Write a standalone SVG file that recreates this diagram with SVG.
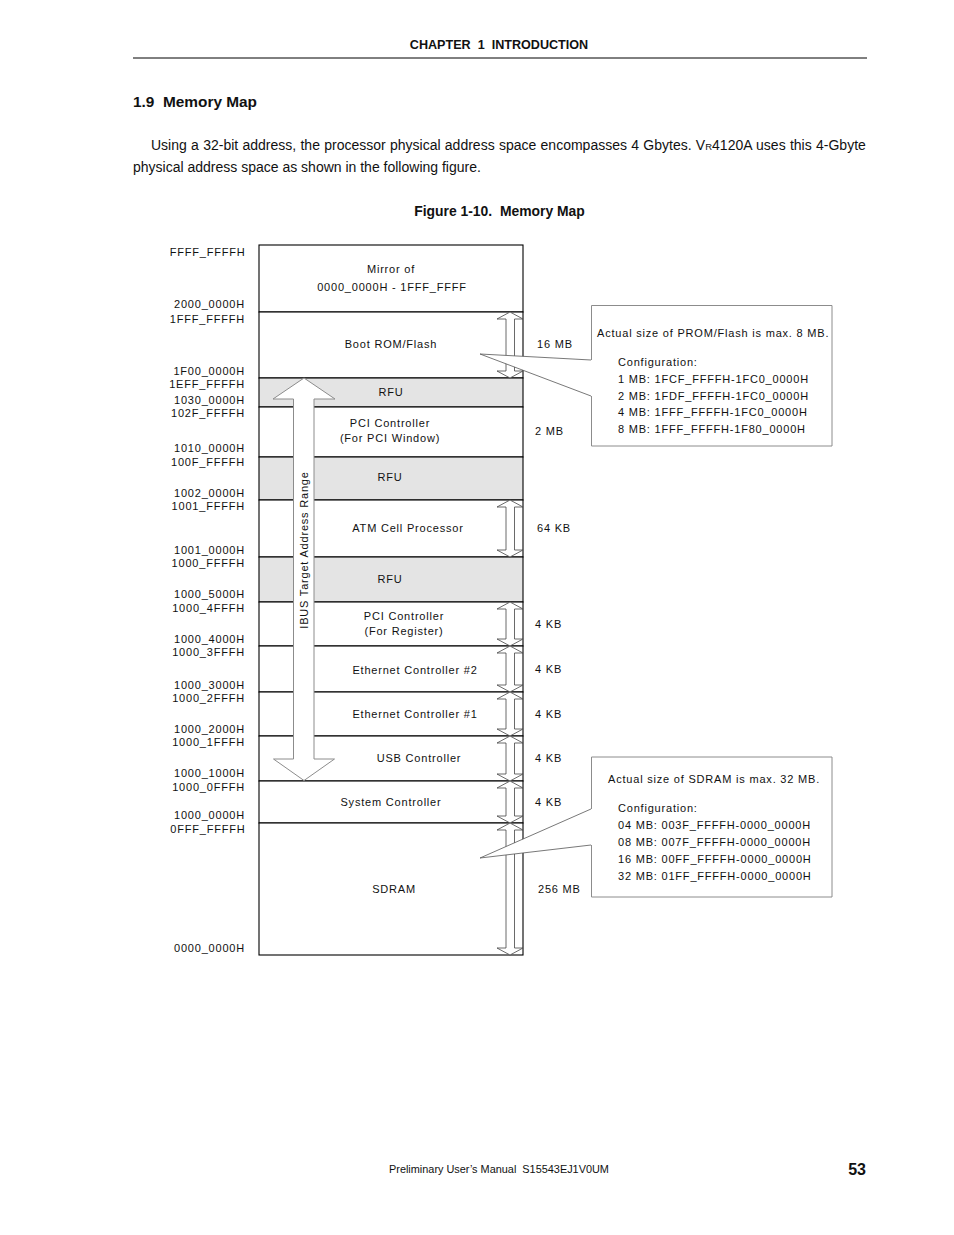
<svg xmlns="http://www.w3.org/2000/svg" width="954" height="1235" viewBox="0 0 954 1235">
<style>
text{font-family:"Liberation Sans",Arial,Helvetica,sans-serif;fill:#111}
.lbl{font-size:11px;letter-spacing:0.8px}
.addr{text-anchor:end}
.mid{text-anchor:middle}
.row{fill:#fff;stroke:#000;stroke-width:1.1}
.rfu{fill:#e4e4e4}
.darr{fill:#fff;stroke:#444;stroke-width:0.8}
.ibus{fill:#fff;stroke:#8c8c8c;stroke-width:1}
.cbox{fill:none;stroke:#8c8c8c;stroke-width:1}
.ptr{fill:#fff;stroke:none}
.ptrline{fill:none;stroke:#555;stroke-width:0.8}
</style>
<rect x="0" y="0" width="954" height="1235" fill="#fff"/>

<g id="page-header">
<text x="499" y="48.5" text-anchor="middle" font-size="12.6" font-weight="bold" xml:space="preserve">CHAPTER  1  INTRODUCTION</text>
<line x1="133" y1="58" x2="867" y2="58" stroke="#000" stroke-width="1"/>
<text x="133" y="106.5" font-size="15.4" font-weight="bold" xml:space="preserve">1.9  Memory Map</text>
<text x="151" y="150" font-size="14" word-spacing="0.4">Using a 32-bit address, the processor physical address space encompasses 4 Gbytes. V<tspan font-size="9.5">R</tspan>4120A uses this 4-Gbyte</text>
<text x="133" y="172" font-size="14">physical address space as shown in the following figure.</text>
<text x="499.5" y="216" text-anchor="middle" font-size="13.9" font-weight="bold" xml:space="preserve">Figure 1-10.  Memory Map</text>
</g>

<g id="regions">
<g id="r-mirror"><rect class="row" x="259" y="245" width="264" height="67"/>
<text class="lbl mid" x="391" y="273">Mirror of</text>
<text class="lbl mid" x="392" y="291">0000_0000H - 1FFF_FFFF</text></g>
<g id="r-boot"><rect class="row" x="259" y="312" width="264" height="66"/>
<text class="lbl mid" x="391" y="348">Boot ROM/Flash</text></g>
<g id="r-rfu1"><rect class="row rfu" x="259" y="378" width="264" height="29"/>
<text class="lbl mid" x="391" y="396">RFU</text></g>
<g id="r-pciwin"><rect class="row" x="259" y="407" width="264" height="50"/>
<text class="lbl mid" x="390" y="427">PCI Controller</text>
<text class="lbl mid" x="390" y="442">(For PCI Window)</text></g>
<g id="r-rfu2"><rect class="row rfu" x="259" y="457" width="264" height="43"/>
<text class="lbl mid" x="390" y="481">RFU</text></g>
<g id="r-atm"><rect class="row" x="259" y="500" width="264" height="57"/>
<text class="lbl mid" x="408" y="532">ATM Cell Processor</text></g>
<g id="r-rfu3"><rect class="row rfu" x="259" y="557" width="264" height="45"/>
<text class="lbl mid" x="390" y="583">RFU</text></g>
<g id="r-pcireg"><rect class="row" x="259" y="602" width="264" height="44"/>
<text class="lbl mid" x="404" y="620">PCI Controller</text>
<text class="lbl mid" x="404" y="635">(For Register)</text></g>
<g id="r-eth2"><rect class="row" x="259" y="646" width="264" height="46"/>
<text class="lbl mid" x="415" y="674">Ethernet Controller #2</text></g>
<g id="r-eth1"><rect class="row" x="259" y="692" width="264" height="44"/>
<text class="lbl mid" x="415" y="718">Ethernet Controller #1</text></g>
<g id="r-usb"><rect class="row" x="259" y="736" width="264" height="45"/>
<text class="lbl mid" x="419" y="762">USB Controller</text></g>
<g id="r-sys"><rect class="row" x="259" y="781" width="264" height="42"/>
<text class="lbl mid" x="391" y="806">System Controller</text></g>
<g id="r-sdram"><rect class="row" x="259" y="823" width="264" height="132"/>
<text class="lbl mid" x="394" y="893">SDRAM</text></g>
</g>

<g id="addresses">
<text class="lbl addr" x="245.5" y="256">FFFF_FFFFH</text>
<text class="lbl addr" x="245" y="308">2000_0000H</text>
<text class="lbl addr" x="245" y="323">1FFF_FFFFH</text>
<text class="lbl addr" x="245" y="375">1F00_0000H</text>
<text class="lbl addr" x="245" y="388">1EFF_FFFFH</text>
<text class="lbl addr" x="245" y="404">1030_0000H</text>
<text class="lbl addr" x="245" y="417">102F_FFFFH</text>
<text class="lbl addr" x="245" y="452">1010_0000H</text>
<text class="lbl addr" x="245" y="466">100F_FFFFH</text>
<text class="lbl addr" x="245" y="497">1002_0000H</text>
<text class="lbl addr" x="245" y="510">1001_FFFFH</text>
<text class="lbl addr" x="245" y="554">1001_0000H</text>
<text class="lbl addr" x="245" y="567">1000_FFFFH</text>
<text class="lbl addr" x="245" y="598">1000_5000H</text>
<text class="lbl addr" x="245" y="612">1000_4FFFH</text>
<text class="lbl addr" x="245" y="643">1000_4000H</text>
<text class="lbl addr" x="245" y="656">1000_3FFFH</text>
<text class="lbl addr" x="245" y="689">1000_3000H</text>
<text class="lbl addr" x="245" y="702">1000_2FFFH</text>
<text class="lbl addr" x="245" y="733">1000_2000H</text>
<text class="lbl addr" x="245" y="746">1000_1FFFH</text>
<text class="lbl addr" x="245" y="777">1000_1000H</text>
<text class="lbl addr" x="245" y="791">1000_0FFFH</text>
<text class="lbl addr" x="245" y="819">1000_0000H</text>
<text class="lbl addr" x="245.5" y="833">0FFF_FFFFH</text>
<text class="lbl addr" x="245" y="952">0000_0000H</text>
</g>

<g id="connectors">
<g id="ibus-arrow">
<polygon class="ibus" points="304,378 335,399 314,399 314,759 334.5,759 304,780.5 273.5,759 293.5,759 293.5,399 273,399"/>
<text class="lbl mid" transform="translate(308,550) rotate(-90)">IBUS Target Address Range</text>
</g>
<g id="size-arrows">
<polygon class="darr" points="510,312 523,319 514.5,319 514.5,371 523,371 510,378 497,371 506,371 506,319 497,319"/>
<polygon class="darr" points="510,500 523,507 514.5,507 514.5,550 523,550 510,557 497,550 506,550 506,507 497,507"/>
<polygon class="darr" points="510,602 523,609 514.5,609 514.5,639 523,639 510,646 497,639 506,639 506,609 497,609"/>
<polygon class="darr" points="510,646 523,653 514.5,653 514.5,685 523,685 510,692 497,685 506,685 506,653 497,653"/>
<polygon class="darr" points="510,692 523,699 514.5,699 514.5,729 523,729 510,736 497,729 506,729 506,699 497,699"/>
<polygon class="darr" points="510,736 523,743 514.5,743 514.5,774 523,774 510,781 497,774 506,774 506,743 497,743"/>
<polygon class="darr" points="510,781 523,788 514.5,788 514.5,816 523,816 510,823 497,816 506,816 506,788 497,788"/>
<polygon class="darr" points="510,823 523,830 514.5,830 514.5,948 523,948 510,955 497,948 506,948 506,830 497,830"/>
</g>
<g id="size-labels">
<text class="lbl" x="537" y="348">16 MB</text>
<text class="lbl" x="535" y="435">2 MB</text>
<text class="lbl" x="537" y="532">64 KB</text>
<text class="lbl" x="535" y="628">4 KB</text>
<text class="lbl" x="535" y="673">4 KB</text>
<text class="lbl" x="535" y="718">4 KB</text>
<text class="lbl" x="535" y="762">4 KB</text>
<text class="lbl" x="535" y="806">4 KB</text>
<text class="lbl" x="538" y="893">256 MB</text>
</g>
<g id="pointer-prom">
<polygon class="ptr" points="480,354 591.5,360 591.5,396"/>
<polyline class="ptrline" points="591,360 480,354 591,396"/>
</g>
<g id="pointer-sdram">
<polygon class="ptr" points="480,858 591.5,809 591.5,845"/>
<polyline class="ptrline" points="591,809 480,858 591,845"/>
</g>
</g>

<g id="note-prom">
<path class="cbox" d="M591.5,360 V305.5 H832 V446 H591.5 V396"/>
<text class="lbl" x="597" y="337">Actual size of PROM/Flash is max. 8 MB.</text>
<text class="lbl" x="618" y="366">Configuration:</text>
<text class="lbl" x="618" y="383">1 MB: 1FCF_FFFFH-1FC0_0000H</text>
<text class="lbl" x="618" y="400">2 MB: 1FDF_FFFFH-1FC0_0000H</text>
<text class="lbl" x="618" y="416">4 MB: 1FFF_FFFFH-1FC0_0000H</text>
<text class="lbl" x="618" y="433">8 MB: 1FFF_FFFFH-1F80_0000H</text>
</g>

<g id="note-sdram">
<path class="cbox" d="M591.5,809 V757 H832 V897 H591.5 V845"/>
<text class="lbl" x="608" y="783">Actual size of SDRAM is max. 32 MB.</text>
<text class="lbl" x="618" y="812">Configuration:</text>
<text class="lbl" x="618" y="829">04 MB: 003F_FFFFH-0000_0000H</text>
<text class="lbl" x="618" y="846">08 MB: 007F_FFFFH-0000_0000H</text>
<text class="lbl" x="618" y="863">16 MB: 00FF_FFFFH-0000_0000H</text>
<text class="lbl" x="618" y="880">32 MB: 01FF_FFFFH-0000_0000H</text>
</g>

<g id="page-footer">
<text x="389" y="1173" font-size="10.9" xml:space="preserve">Preliminary User’s Manual  S15543EJ1V0UM</text>
<text x="866" y="1175" text-anchor="end" font-size="16" font-weight="bold">53</text>
</g>
</svg>
